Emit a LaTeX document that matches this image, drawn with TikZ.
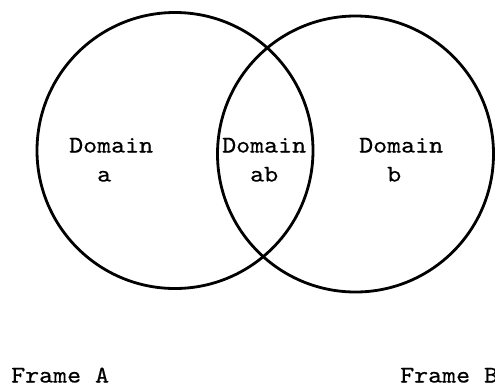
\documentclass[tikz,border=0pt]{standalone}
\usepackage{fontspec}
\setmonofont{lmmono10-regular.otf}[FakeStretch=1.11,FakeBold=0.5]
\begin{document}
\begin{tikzpicture}[x=1pt,y=-1pt,
  ring/.style={draw=black,line width=2.8pt},
  lbl/.style={font=\ttfamily\fontsize{24}{28}\selectfont,inner sep=0pt,anchor=base west,text=black}]
\useasboundingbox (0,0) rectangle (495,386);
\draw[ring] (175,150.5) circle[radius=138];
\draw[ring] (355.5,154) circle[radius=138];
\node[lbl] (da1) at (69,152.5) {Domain};
\node[lbl] (da2) at (97,181.5) {a};
\node[lbl] (dab1) at (222,152.5) {Domain};
\node[lbl] (dab2) at (250,181.5) {ab};
\node[lbl] (db1) at (359,152.5) {Domain};
\node[lbl] (db2) at (387,181.5) {b};
\node[lbl] (fa) at (11,382.5) {Frame A};
\node[lbl] (fb) at (400,382.5) {Frame B};
\end{tikzpicture}
\end{document}
